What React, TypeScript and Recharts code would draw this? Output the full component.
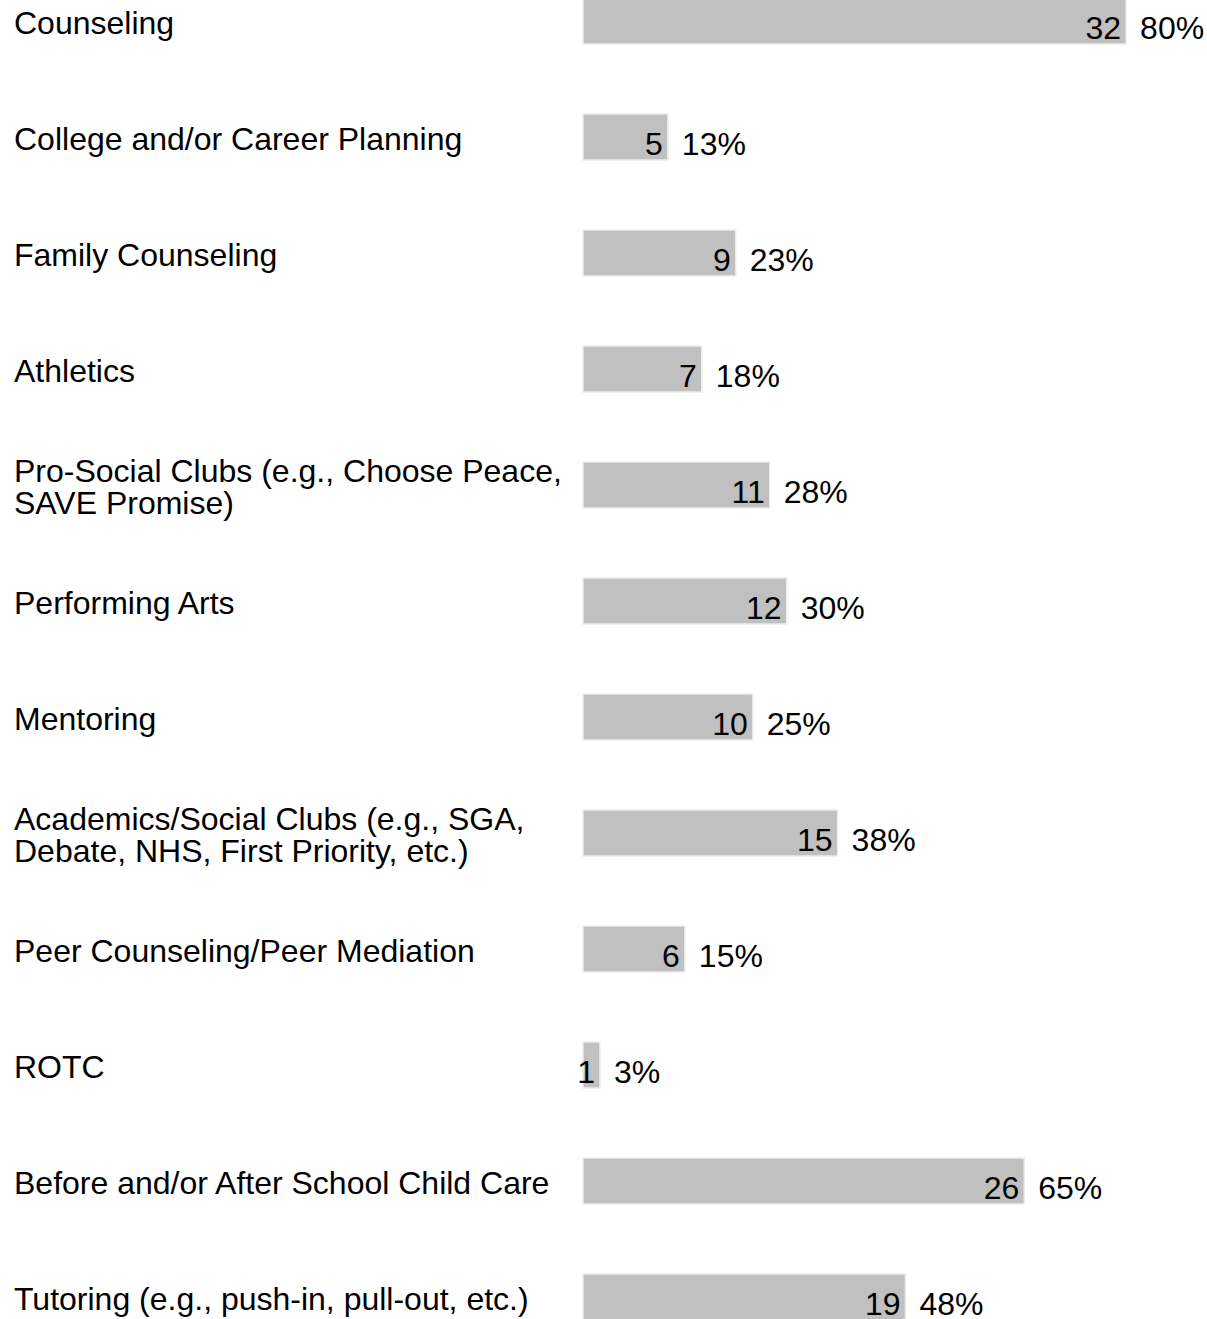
import { Bar, BarChart, LabelList, XAxis, YAxis } from "recharts";

const CATEGORIES = [
  "Counseling",
  "College and/or Career Planning",
  "Family Counseling",
  "Athletics",
  "Pro-Social Clubs (e.g., Choose Peace,\nSAVE Promise)",
  "Performing Arts",
  "Mentoring",
  "Academics/Social Clubs (e.g., SGA,\nDebate, NHS, First Priority, etc.)",
  "Peer Counseling/Peer Mediation",
  "ROTC",
  "Before and/or After School Child Care",
  "Tutoring (e.g., push-in, pull-out, etc.)",
];
const COUNTS = [32, 5, 9, 7, 11, 12, 10, 15, 6, 1, 26, 19];
const PERCENTS = [80, 13, 23, 18, 28, 30, 25, 38, 15, 3, 65, 48];

const data = CATEGORIES.map((name, i) => ({ name, count: COUNTS[i], pct: PERCENTS[i] }));

const FONT = "'Liberation Sans', Arial, sans-serif";
const FONT_SIZE = 32;

/** Left-aligned, possibly two-line category label. */
function CategoryTick({ y, payload }: any) {
  const lines = String(payload.value).split("\n");
  const first = lines.length > 1 ? y - 3 : y + 13;
  return (
    <text x={14} y={first} fontFamily={FONT} fontSize={FONT_SIZE} fill="#000" textAnchor="start">
      {lines.map((line, i) => (
        <tspan key={i} x={14} y={first + i * 32}>
          {line}
        </tspan>
      ))}
    </text>
  );
}

function CountLabel({ x, y, width, height, value }: any) {
  return (
    <text
      x={x + width - 5}
      y={y + height / 2 + 18}
      textAnchor="end"
      fontFamily={FONT}
      fontSize={FONT_SIZE}
      fill="#000"
    >
      {value}
    </text>
  );
}

function PercentLabel({ x, y, width, height, value }: any) {
  return (
    <text
      x={x + width + 14}
      y={y + height / 2 + 18}
      textAnchor="start"
      fontFamily={FONT}
      fontSize={FONT_SIZE}
      fill="#000"
    >
      {`${value}%`}
    </text>
  );
}

export default function App() {
  return (
    <div style={{ position: "absolute", top: 0, left: 0, width: 1207, height: 1319, overflow: "hidden", background: "#fff" }}>
      <div style={{ marginTop: -37 }}>
        <BarChart
          width={1207}
          height={1392}
          data={data}
          layout="vertical"
          margin={{ top: 0, right: 13, bottom: 0, left: 0 }}
        >
          <XAxis type="number" domain={[0, 36]} hide />
          <YAxis
            type="category"
            dataKey="name"
            width={583}
            axisLine={false}
            tickLine={false}
            tick={<CategoryTick />}
            interval={0}
          />
          <Bar dataKey="count" barSize={46} fill="#c0c0c0" stroke="#ececec" strokeWidth={1.5} isAnimationActive={false}>
            <LabelList dataKey="count" content={<CountLabel />} />
            <LabelList dataKey="pct" content={<PercentLabel />} />
          </Bar>
        </BarChart>
      </div>
    </div>
  );
}
